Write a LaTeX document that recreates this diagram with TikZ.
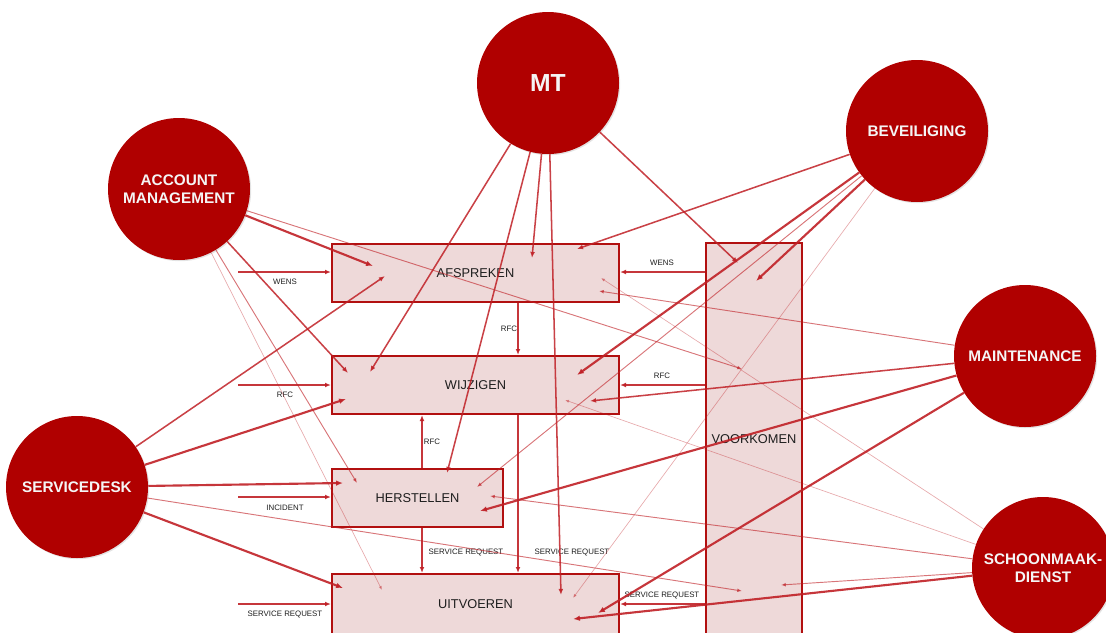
\documentclass[tikz,border=0pt]{standalone}
\usepackage{fontspec}
\setmainfont{Liberation Sans}
\usetikzlibrary{arrows.meta,shadows}
\definecolor{circred}{RGB}{176,0,0}
\definecolor{linered}{RGB}{192,32,38}
\definecolor{boxfill}{RGB}{238,217,217}
\definecolor{boxline}{RGB}{178,16,16}
\definecolor{txtgray}{RGB}{30,30,30}
\begin{document}
\begin{tikzpicture}[x=0.75pt,y=-0.75pt,
  role/.style={circle, fill=circred, minimum size=106.5pt, inner sep=0pt,
    text=white!96!black, align=center, font=\bfseries\fontsize{11.5}{13.5}\selectfont,
    drop shadow={opacity=0.22, shadow xshift=0.9pt, shadow yshift=-0.9pt}},
  proc/.style={rectangle, draw=boxline, fill=boxfill, line width=1.5pt,
    text=txtgray, font=\fontsize{9.6}{11}\selectfont, inner sep=0pt,
    drop shadow={opacity=0.18, shadow xshift=0.9pt, shadow yshift=-0.9pt}},
  lbl/.style={font=\fontsize{5.9}{6.8}\selectfont, text=txtgray, inner sep=0pt},
  flow/.style={draw=linered, line width=1.2pt, opacity=0.9, -{Latex[length=4.5pt,width=3.6pt]}},
  lthick/.style={draw=linered, line width=1.6pt, opacity=0.9, -{Latex[length=5.2pt,width=4.2pt]}},
  lmed/.style={draw=linered, line width=1.15pt, opacity=0.85, -{Latex[length=4.6pt,width=3.7pt]}},
  lthin/.style={draw=linered, line width=0.7pt, opacity=0.62, -{Latex[length=3.6pt,width=2.9pt]}},
  lfaint/.style={draw=linered, line width=0.5pt, opacity=0.38, -{Latex[length=3pt,width=2.4pt]}}
]
\useasboundingbox (0,0) rectangle (1106,632);
\clip (0,0) rectangle (1106,632);

% process boxes
\node[proc, minimum width=215.25pt, minimum height=43.5pt] (afspreken) at (475.5,273) {AFSPREKEN};
\node[proc, minimum width=215.25pt, minimum height=43.5pt] (wijzigen) at (475.5,385) {WIJZIGEN};
\node[proc, minimum width=128.25pt, minimum height=43.5pt] (herstellen) at (417.5,498) {HERSTELLEN};
\node[proc, minimum width=215.25pt, minimum height=45pt] (uitvoeren) at (475.5,604) {UITVOEREN};
\node[proc, minimum width=72pt, minimum height=294pt] (voorkomen) at (754,439) {VOORKOMEN};

% role circles
\node[role, font=\bfseries\fontsize{18.5}{20}\selectfont] (mt) at (548,83) {MT};
\node[role] (am) at (179,189) {ACCOUNT\\MANAGEMENT};
\node[role] (bev) at (917,131) {BEVEILIGING};
\node[role] (maint) at (1025,356) {MAINTENANCE};
\node[role] (sd) at (77,487) {SERVICEDESK};
\node[role] (schoon) at (1043,568) {SCHOONMAAK-\\DIENST};

% helper coordinates
\coordinate (xA) at (518,0);
\coordinate (xB) at (422,0);
\coordinate (inW) at (238,272);
\coordinate (inR) at (238,385);
\coordinate (inI) at (238,497);
\coordinate (inS) at (238,604);

% process flows
\draw[flow] (inW) -- (inW -| afspreken.west);
\draw[flow] (inR) -- (inR -| wijzigen.west);
\draw[flow] (inI) -- (inI -| herstellen.west);
\draw[flow] (inS) -- (inS -| uitvoeren.west);
\draw[flow] (voorkomen.west |- inW) -- (afspreken.east |- inW);
\draw[flow] (voorkomen.west |- inR) -- (wijzigen.east |- inR);
\draw[flow] (voorkomen.west |- inS) -- (uitvoeren.east |- inS);
\draw[flow] (afspreken.south -| xA) -- (wijzigen.north -| xA);
\draw[flow] (herstellen.north -| xB) -- (wijzigen.south -| xB);
\draw[flow] (herstellen.south -| xB) -- (uitvoeren.north -| xB);
\draw[flow] (wijzigen.south -| xA) -- (uitvoeren.north -| xA);

% flow labels
\node[lbl] (l1) at (285,282) {WENS};
\node[lbl] (l2) at (285,395) {RFC};
\node[lbl] (l3) at (285,508) {INCIDENT};
\node[lbl] (l4) at (285,614) {SERVICE REQUEST};
\node[lbl] (l5) at (662,263) {WENS};
\node[lbl] (l6) at (662,376) {RFC};
\node[lbl] (l7) at (662,595) {SERVICE REQUEST};
\node[lbl] (l8) at (509,329) {RFC};
\node[lbl] (l9) at (432,442) {RFC};
\node[lbl] (l10) at (466,552) {SERVICE REQUEST};
\node[lbl] (l11) at (572,552) {SERVICE REQUEST};

% link end points
\coordinate (m1) at (370,372);
\coordinate (m2) at (447,473);
\coordinate (m3) at (532,258);
\coordinate (m4) at (561,595);
\coordinate (m5) at (738,263);
\coordinate (a1) at (373,266);
\coordinate (a2) at (742,369);
\coordinate (a3) at (348,373);
\coordinate (a4) at (357,483);
\coordinate (a5) at (382,590);
\coordinate (s1) at (385,276);
\coordinate (s2) at (346,399);
\coordinate (s3) at (343,483);
\coordinate (s4) at (742,591);
\coordinate (s5) at (343,588);
\coordinate (b1) at (577,249);
\coordinate (b2) at (577,375);
\coordinate (b3) at (477,487);
\coordinate (b4) at (756,281);
\coordinate (b5) at (573,598);
\coordinate (n1) at (599,291);
\coordinate (n2) at (590,401);
\coordinate (n3) at (480,511);
\coordinate (n4) at (598,613);
\coordinate (c1) at (601,278);
\coordinate (c2) at (565,400);
\coordinate (c3) at (490,496);
\coordinate (c4) at (781,585);
\coordinate (c5) at (573,619);

% MT
\draw[lmed] (mt) -- (m1);
\draw[lmed] (mt) -- (m2);
\draw[lmed] (mt) -- (m3);
\draw[lmed] (mt) -- (m4);
\draw[lmed] (mt) -- (m5);
% account management
\draw[lthick] (am) -- (a1);
\draw[lthin] (am) -- (a2);
\draw[lmed] (am) -- (a3);
\draw[lthin] (am) -- (a4);
\draw[lfaint] (am) -- (a5);
% servicedesk
\draw[lmed] (sd) -- (s1);
\draw[lthick] (sd) -- (s2);
\draw[lthick] (sd) -- (s3);
\draw[lthin] (sd) -- (s4);
\draw[lthick] (sd) -- (s5);
% beveiliging
\draw[lmed] (bev) -- (b1);
\draw[lthick] (bev) -- (b2);
\draw[lthin] (bev) -- (b3);
\draw[lthick] (bev) -- (b4);
\draw[lfaint] (bev) -- (b5);
% maintenance
\draw[lthin] (maint) -- (n1);
\draw[lmed] (maint) -- (n2);
\draw[lthick] (maint) -- (n3);
\draw[lthick] (maint) -- (n4);
% schoonmaakdienst
\draw[lfaint] (schoon) -- (c1);
\draw[lfaint] (schoon) -- (c2);
\draw[lthin] (schoon) -- (c3);
\draw[lthin] (schoon) -- (c4);
\draw[lthick] (schoon) -- (c5);
\end{tikzpicture}
\end{document}
